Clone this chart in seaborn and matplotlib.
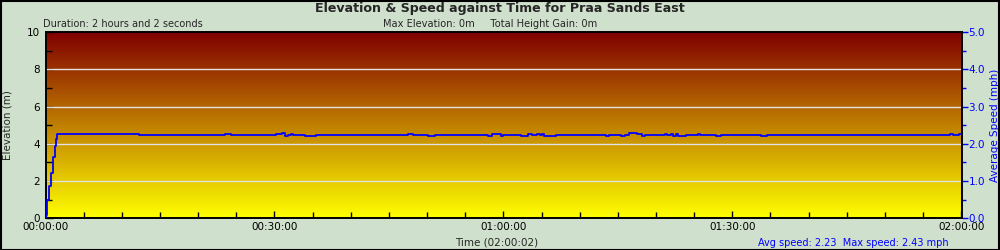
import numpy as np
import pandas as pd
import matplotlib
matplotlib.use("Agg")
import matplotlib.pyplot as plt
from matplotlib.colors import LinearSegmentedColormap
from matplotlib.ticker import MultipleLocator, FuncFormatter
import seaborn as sns

# ---- data ----
title = "Elevation & Speed against Time for Praa Sands East"
duration_text = "Duration: 2 hours and 2 seconds"
stats_text = "Max Elevation: 0m     Total Height Gain: 0m"
speed_text = "Avg speed: 2.23  Max speed: 2.43 mph"
xlabel = "Time (02:00:02)"
ylabel_left = "Elevation (m)"
ylabel_right = "Average Speed (mph)"

total_minutes = 7202 / 60.0

time_min = [0.0, 0.07, 0.20, 0.46, 0.72, 0.98, 1.24, 1.38, 1.51, 12.25, 23.52, 24.30,
            30.20, 30.98, 31.38, 31.77, 32.16, 32.43, 34.00, 35.44, 47.49, 48.15,
            50.11, 51.03, 57.97, 58.50, 59.68, 59.94, 62.30, 63.22, 63.74, 64.39,
            64.79, 65.05, 65.31, 66.88, 73.43, 73.83, 75.40, 75.92, 76.45, 77.50,
            78.15, 78.55, 81.17, 81.43, 81.96, 82.22, 82.61, 82.88, 83.92, 85.50,
            85.76, 87.85, 88.51, 93.75, 94.53, 118.51, 118.91, 119.69, 120.03]
speed_mph = [0.00, 0.09, 0.49, 0.87, 1.22, 1.65, 1.95, 2.14, 2.27, 2.24, 2.27, 2.24,
             2.27, 2.29, 2.21, 2.24, 2.27, 2.24, 2.21, 2.24, 2.27, 2.24,
             2.21, 2.24, 2.21, 2.27, 2.21, 2.24, 2.21, 2.27, 2.24, 2.27,
             2.24, 2.27, 2.21, 2.24, 2.21, 2.24, 2.21, 2.24, 2.29, 2.27,
             2.21, 2.24, 2.27, 2.24, 2.27, 2.21, 2.27, 2.21, 2.24, 2.27,
             2.24, 2.21, 2.24, 2.21, 2.24, 2.27, 2.24, 2.27, 2.27]
elevation_m = [0.0] * len(time_min)

df = pd.DataFrame({"t": time_min, "speed": speed_mph, "elev": elevation_m})

x_major = [0, 30, 60, 90, 120]

# ---- style ----
bg = "#cfe0cc"
sns.set_style("white")
plt.rcParams["font.family"] = ["DejaVu Sans"]

fig = plt.figure(figsize=(10, 2.5), dpi=100, facecolor=bg)
ax = fig.add_axes([0.0455, 0.127, 0.916, 0.744])
ax2 = ax.twinx()

# gradient background
cmap = LinearSegmentedColormap.from_list("g", ["#ffff00", "#c07f00", "#800000"])
grad = np.linspace(0, 1, 256).reshape(-1, 1)
ax.imshow(grad, extent=[0, total_minutes, 0, 10], origin="lower", aspect="auto",
          cmap=cmap, zorder=0)

for g in [2, 4, 6, 8]:
    ax.axhline(g, color="#e2e2e2", linewidth=1.0, zorder=1)

sns.lineplot(data=df, x="t", y="elev", ax=ax, color="#000000", linewidth=1.0,
             estimator=None, sort=False, zorder=2)
sns.lineplot(data=df, x="t", y="speed", ax=ax2, color="#0000ff", linewidth=1.3,
             estimator=None, sort=False, drawstyle="steps-post", zorder=3)

ax.set_xlim(0, total_minutes)
ax.set_ylim(0, 10)
ax2.set_ylim(0, 5)

def fmt_time(v, pos):
    s = int(round(v * 60))
    return f"{s // 3600:02d}:{(s % 3600) // 60:02d}:{s % 60:02d}"

ax.xaxis.set_major_locator(plt.FixedLocator(x_major))
ax.xaxis.set_minor_locator(MultipleLocator(5))
ax.xaxis.set_major_formatter(FuncFormatter(fmt_time))
ax.yaxis.set_major_locator(MultipleLocator(2))
ax.yaxis.set_minor_locator(MultipleLocator(1))
ax2.yaxis.set_major_locator(MultipleLocator(1))
ax2.yaxis.set_minor_locator(MultipleLocator(0.5))
ax2.yaxis.set_major_formatter(FuncFormatter(lambda v, p: f"{v:.1f}"))

ax.tick_params(axis="both", which="both", direction="in", colors="black",
               labelsize=7.5, pad=2, bottom=True, left=True, top=False, right=False)
ax.tick_params(axis="both", which="major", length=5, width=1)
ax.tick_params(axis="both", which="minor", length=4, width=1)
ax.tick_params(axis="x", which="major", pad=3)
ax.tick_params(axis="y", which="major", pad=4)
ax2.tick_params(axis="y", which="both", direction="out", colors="#0000ff",
                labelsize=7.5, pad=1, left=False, right=True)
ax2.tick_params(axis="y", which="major", length=4, width=1)
ax2.tick_params(axis="y", which="minor", length=3, width=1)

ax.set_xlabel("")
ax.set_ylabel(ylabel_left, fontsize=7.5)
ax2.set_ylabel(ylabel_right, fontsize=7.5, color="#0000ff", labelpad=4)
ax.yaxis.set_label_coords(-0.036, 0.5)

for a in (ax, ax2):
    for sp in a.spines.values():
        sp.set_color("black")
        sp.set_linewidth(1.2)

fig.text(0.5, 0.966, title, ha="center", va="center", fontsize=9.1, fontweight="bold")
fig.text(0.043, 0.905, duration_text, ha="left", va="center", fontsize=7)
fig.text(0.49, 0.905, stats_text, ha="center", va="center", fontsize=7.1)
fig.text(0.497, 0.03, xlabel, ha="center", va="center", fontsize=7.5)
fig.text(0.949, 0.026, speed_text, ha="right", va="center", fontsize=7, color="#0000ff")

# figure border
fig.patches.append(plt.Rectangle((0.001, 0.002), 0.998, 0.996, transform=fig.transFigure,
                                 fill=False, edgecolor="black", linewidth=1.5))

fig.savefig("out.png", dpi=100, facecolor=bg)
